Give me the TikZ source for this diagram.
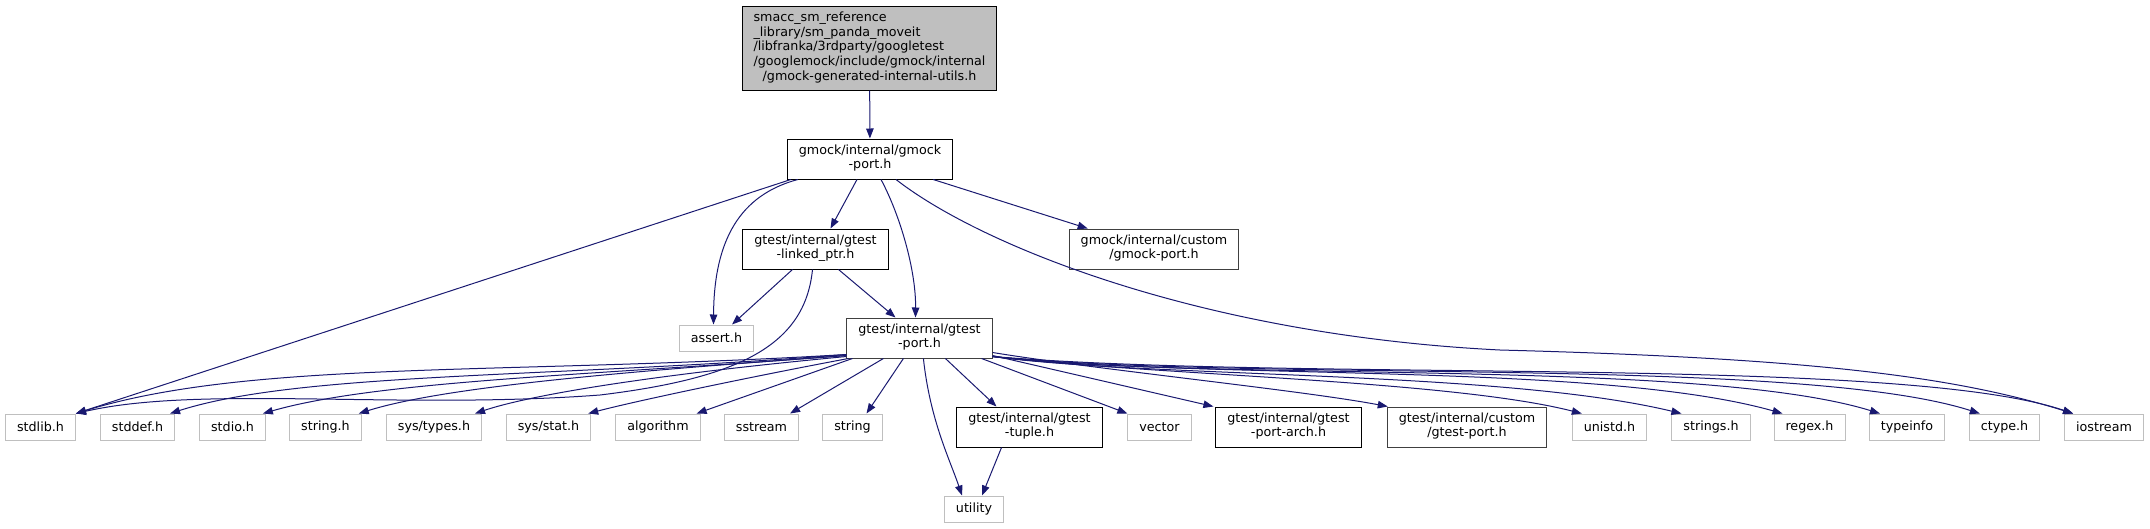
\documentclass[tikz,border=0pt]{standalone}
\usepackage{fontspec}
\setmainfont{DejaVu Sans}
\usetikzlibrary{arrows.meta}

\definecolor{edgeblue}{HTML}{191970}
\definecolor{nodegrey}{HTML}{BFBFBF}
\definecolor{docgrey}{HTML}{404040}

% first lines left, last line centred (as doxygen does)
\newcommand{\hdrlines}[2]{\begin{tabular}{@{}l@{}}#1\\\multicolumn{1}{@{}c@{}}{#2}\end{tabular}}

\tikzset{
	hdr/.style={draw=black, line width=1pt, fill=white, inner xsep=11.5pt, inner ysep=0pt,
		minimum height=26pt, font=\fontsize{12.7}{14}\selectfont},
	sysbox/.style={hdr, draw=nodegrey},
	twoline/.style={hdr, minimum height=40pt},
	incl/.style={draw=edgeblue, line width=1pt, -{Triangle[length=10pt,width=7.5pt]}}
}

\begin{document}
\begin{tikzpicture}[x=1pt, y=-1pt]
			
			\useasboundingbox (0,0) rectangle (2150,528);
			
			% --- headers of the top part ---
			\node[hdr, fill=nodegrey, minimum height=84pt, font=\fontsize{12.7}{14.6}\selectfont] (root) at (869.5,48)
				{\hdrlines{smacc\_sm\_reference\\\_library/sm\_panda\_moveit\\/libfranka/3rdparty/googletest\\/googlemock/include/gmock/internal}{/gmock-generated-internal-utils.h}};
			\node[twoline] (gmp) at (870,159) {\hdrlines{gmock/internal/gmock}{-port.h}};
			\node[twoline] (lptr) at (815.5,249) {\hdrlines{gtest/internal/gtest}{-linked\_ptr.h}};
			\node[twoline, draw=docgrey] (cgmp) at (1154,249) {\hdrlines{gmock/internal/custom}{/gmock-port.h}};
			\node[sysbox] (assert) at (716.5,338) {assert.h};
			\node[twoline, draw=docgrey] (gtp) at (919.5,338) {\hdrlines{gtest/internal/gtest}{-port.h}};
			
			% --- bottom row ---
			\foreach \n/\x/\t in {stdlib/40.5/stdlib.h, stddef/137.5/stddef.h, stdio/232.5/stdio.h,
				stringh/325.5/string.h, systypes/434/{sys/types.h}, sysstat/548.5/{sys/stat.h},
				algorithm/658/algorithm, sstream/761.5/sstream, string/852.5/string,
				vector/1159.5/vector, unistd/1609.5/unistd.h, strings/1711/strings.h,
				regex/1809.5/regex.h, typeinfo/1907/typeinfo, ctype/2004.5/ctype.h,
				iostream/2104/iostream}{
				\node[sysbox] (\n) at (\x,427) {\t};
			}
			\node[twoline] (tuple) at (1029.5,427) {\hdrlines{gtest/internal/gtest}{-tuple.h}};
			\node[twoline] (portarch) at (1288.5,427) {\hdrlines{gtest/internal/gtest}{-port-arch.h}};
			\node[twoline, draw=docgrey] (cgtp) at (1467,427) {\hdrlines{gtest/internal/custom}{/gtest-port.h}};
			\node[sysbox] (utility) at (974,509) {utility};
			
			% --- includes of the root and of gmock-port.h ---
			\draw[incl] (root) -- (gmp);
			\draw[incl] ([xshift=4pt]gmp.south west) -- (stdlib.north east);
			\draw[incl] ([xshift=11pt]gmp.south west) .. controls (740,195) and (714,240) .. ([xshift=-3pt]assert.north);
			\draw[incl] ([xshift=-13pt]gmp.south) -- ([xshift=15pt]lptr.north);
			\draw[incl] ([xshift=11pt]gmp.south) .. controls (900,215) and (916,270) .. ([xshift=-4pt]gtp.north);
			\draw[incl] ([xshift=-20pt]gmp.south east) -- ([xshift=19pt]cgmp.north west);
			\draw[incl] ([xshift=26pt]gmp.south) .. controls (980,245) and (1200,335) .. (1500,350)
				.. controls (1800,358) and (1950,375) .. ([xshift=9pt]iostream.north west);
			
			% --- includes of linked_ptr.h ---
			\draw[incl] ([xshift=-23pt]lptr.south) -- ([xshift=-22pt]assert.north east);
			\draw[incl] ([xshift=-3pt]lptr.south) .. controls (805,345) and (740,378) .. (600,395)
				.. controls (400,410) and (200,385) .. (stdlib.north east);
			\draw[incl] ([xshift=23pt]lptr.south) -- ([xshift=-24pt]gtp.north);
			
			% --- includes of gtest-port.h, to the left ---
			\draw[incl] ([yshift=4pt]gtp.south west) .. controls (500,375) and (250,360) .. (stdlib.north east);
			\draw[incl] ([yshift=4pt]gtp.south west) .. controls (550,378) and (300,372) .. ([xshift=-5pt]stddef.north east);
			\draw[incl] ([yshift=3pt]gtp.south west) .. controls (600,375) and (380,380) .. ([xshift=-3pt]stdio.north east);
			\draw[incl] ([yshift=3pt]gtp.south west) .. controls (650,370) and (450,385) .. ([xshift=-3pt]stringh.north east);
			\draw[incl] ([yshift=2pt]gtp.south west) .. controls (650,375) and (530,395) .. ([xshift=-7pt]systypes.north east);
			\draw[incl] ([xshift=2pt]gtp.south west) .. controls (760,375) and (640,400) .. ([xshift=-3pt]sysstat.north east);
			\draw[incl] ([xshift=6pt]gtp.south west) -- ([xshift=-4pt]algorithm.north east);
			\draw[incl] ([xshift=37pt]gtp.south west) -- ([xshift=-9pt]sstream.north east);
			\draw[incl] ([xshift=57pt]gtp.south west) -- ([xshift=14pt]string.north);
			
			% --- includes of gtest-port.h, downwards ---
			\draw[incl] ([xshift=77pt]gtp.south west) .. controls (930,420) and (950,460) .. ([xshift=-12pt]utility.north);
			\draw[incl] ([xshift=99pt]gtp.south west) -- ([xshift=-33pt]tuple.north);
			\draw[incl] ([xshift=-11pt]gtp.south east) -- (vector.north west);
			\draw[incl] ([yshift=3pt]gtp.south east) -- ([xshift=-2pt]portarch.north west);
			\draw[incl] ([yshift=6pt]gtp.south east) .. controls (1100,370) and (1300,390) .. ([xshift=1pt]cgtp.north west);
			
			% --- includes of gtest-port.h, to the right ---
			\draw[incl] ([yshift=2pt]gtp.south east) .. controls (1150,375) and (1450,380) .. ([xshift=10pt]unistd.north west);
			\draw[incl] ([yshift=2pt]gtp.south east) .. controls (1150,378) and (1500,370) .. ([xshift=10pt]strings.north west);
			\draw[incl] ([yshift=2pt]gtp.south east) .. controls (1200,380) and (1600,362) .. ([xshift=9pt]regex.north west);
			\draw[incl] ([yshift=2pt]gtp.south east) .. controls (1200,382) and (1700,358) .. ([xshift=11pt]typeinfo.north west);
			\draw[incl] ([yshift=2pt]gtp.south east) .. controls (1250,382) and (1800,356) .. ([xshift=11pt]ctype.north west);
			\draw[incl] ([yshift=2pt]gtp.south east) .. controls (1300,382) and (1900,355) .. ([xshift=9pt]iostream.north west);
			
			% tuple.h includes utility
			\draw[incl] ([xshift=-28pt]tuple.south) -- ([xshift=8pt]utility.north);
			
\end{tikzpicture}
\end{document}
